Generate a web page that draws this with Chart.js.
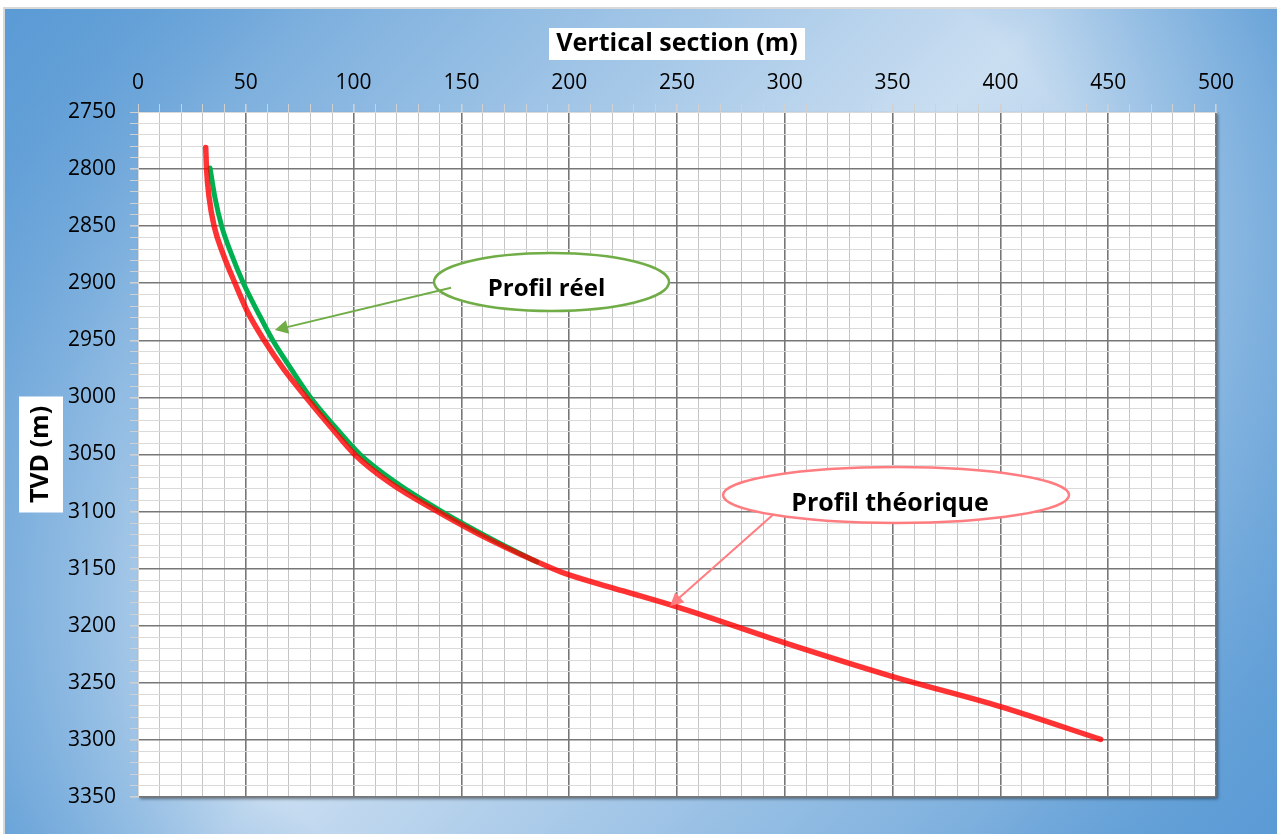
<!DOCTYPE html>
<html>
<head>
<meta charset="utf-8">
<title>Vertical section vs TVD</title>
<script src="https://cdn.jsdelivr.net/npm/chart.js@4.4.0/dist/chart.umd.min.js"></script>
<style>
  html, body { margin: 0; padding: 0; background: #fff; }
  canvas { display: block; }
</style>
</head>
<body>
<canvas id="c" width="1277" height="834"></canvas>
<script>
// Planned well path (vertical section, m / true vertical depth, m)
const theoX = [31.4, 31.8, 33.0, 35.3, 39.6, 45.0, 50.8, 58.5, 67.5, 78, 89, 100.5, 117, 139, 163.5, 192.5, 200, 225, 250, 300, 350, 400, 446.5];
const theoY = [2781, 2800, 2825, 2850, 2875, 2900, 2925, 2950, 2975, 3000, 3025, 3050, 3075, 3100, 3125, 3150, 3155.5, 3169.5, 3183.5, 3215, 3244.5, 3270.8, 3299.5];

// Drilled well path
const reelX = [33.4, 35.7, 38.8, 43.4, 48.9, 55.5, 62.5, 71, 80, 91, 103, 120, 141, 165, 185];
const reelY = [2799, 2825, 2850, 2875, 2900, 2925, 2950, 2975, 3000, 3025, 3050, 3075, 3100, 3125, 3144];

// Labelled tick values
const xTickLabels = [0, 50, 100, 150, 200, 250, 300, 350, 400, 450, 500];
const yTickLabels = [2750, 2800, 2850, 2900, 2950, 3000, 3050, 3100, 3150, 3200, 3250, 3300, 3350];

const FONT = '"Open Sans", "Liberation Sans", sans-serif';

// Callout bubbles pointing at each curve (centres and arrow ends in data units)
const callouts = [
  { text: 'Profil réel', cx: 191.8, cy: 2898.9, rx: 117.5, ry: 29, color: '#70ad47', size: 24,
    from: [145.2, 2904], to: [63.5, 2941], tdx: -5, tdy: 14 },
  { text: 'Profil théorique', cx: 351.6, cy: 3085.5, rx: 173, ry: 28, color: '#ff7c80', size: 25,
    from: [294.4, 3103], to: [246.8, 3182.7], tdx: -6, tdy: 16 }
];

const isLabelled = (v, list) => list.some(t => Math.abs(t - v) < 1e-6);
const isMajor = v => Math.abs(v % 50) < 1e-6;

const frame = {
  id: 'frame',
  beforeDraw(chart) {
    const { ctx, width, height, chartArea: a } = chart;
    ctx.save();
    ctx.fillStyle = '#ffffff';
    ctx.fillRect(0, 0, width, height);

    // diagonal blue gradient with darker corners
    const g = ctx.createLinearGradient(0, 0, 1060, 1060);
    g.addColorStop(0, '#5b9bd5');
    g.addColorStop(0.5, '#cadef1');
    g.addColorStop(1, '#5b9bd5');
    ctx.fillStyle = g;
    ctx.fillRect(4, 8, width - 4, height - 8);
    const v = ctx.createRadialGradient(640, 420, 0, 640, 420, 765);
    v.addColorStop(0, 'rgba(91,155,213,0)');
    v.addColorStop(0.68, 'rgba(91,155,213,0)');
    v.addColorStop(1, 'rgba(91,155,213,0.85)');
    ctx.fillStyle = v;
    ctx.fillRect(4, 8, width - 4, height - 8);
    ctx.strokeStyle = '#d9d9d9';
    ctx.lineWidth = 2;
    ctx.strokeRect(4, 8, width, height);

    // plot area with drop shadow
    ctx.shadowColor = 'rgba(0,0,0,0.45)';
    ctx.shadowOffsetX = 2;
    ctx.shadowOffsetY = 2;
    ctx.shadowBlur = 3;
    ctx.fillStyle = '#ffffff';
    ctx.fillRect(a.left, a.top, a.right - a.left, a.bottom - a.top);
    ctx.restore();
  },
  afterDraw(chart) {
    const { ctx, chartArea: a, scales } = chart;
    const xs = scales.x, ys = scales.y;
    ctx.save();

    // axis titles on white boxes
    ctx.font = 'bold 25px ' + FONT;
    ctx.fillStyle = '#ffffff';
    const tx = (a.left + a.right) / 2;
    ctx.fillRect(tx - 128, 28, 256, 32);
    ctx.fillStyle = '#000';
    ctx.textAlign = 'center';
    ctx.textBaseline = 'middle';
    ctx.fillText('Vertical section (m)', tx, 44);

    const ty = (a.top + a.bottom) / 2;
    ctx.fillStyle = '#ffffff';
    ctx.fillRect(19, ty - 58, 44, 116);
    ctx.save();
    ctx.translate(41, ty);
    ctx.rotate(-Math.PI / 2);
    ctx.fillStyle = '#000';
    ctx.fillText('TVD (m)', 0, 0);
    ctx.restore();

    // callouts
    callouts.forEach(c => {
      const cx = xs.getPixelForValue(c.cx), cy = ys.getPixelForValue(c.cy);
      ctx.beginPath();
      ctx.ellipse(cx, cy, c.rx, c.ry, 0, 0, Math.PI * 2);
      ctx.fillStyle = '#ffffff';
      ctx.fill();
      ctx.lineWidth = 2.5;
      ctx.strokeStyle = c.color;
      ctx.stroke();

      const x0 = xs.getPixelForValue(c.from[0]), y0 = ys.getPixelForValue(c.from[1]);
      const x1 = xs.getPixelForValue(c.to[0]), y1 = ys.getPixelForValue(c.to[1]);
      const ang = Math.atan2(y1 - y0, x1 - x0);
      const hl = 13, hw = 7;
      ctx.beginPath();
      ctx.moveTo(x0, y0);
      ctx.lineTo(x1 - hl * 0.8 * Math.cos(ang), y1 - hl * 0.8 * Math.sin(ang));
      ctx.lineWidth = 2;
      ctx.stroke();
      ctx.beginPath();
      ctx.moveTo(x1, y1);
      ctx.lineTo(x1 - hl * Math.cos(ang) + hw * Math.sin(ang), y1 - hl * Math.sin(ang) - hw * Math.cos(ang));
      ctx.lineTo(x1 - hl * Math.cos(ang) - hw * Math.sin(ang), y1 - hl * Math.sin(ang) + hw * Math.cos(ang));
      ctx.closePath();
      ctx.fillStyle = c.color;
      ctx.fill();

      ctx.font = 'bold ' + c.size + 'px ' + FONT;
      ctx.fillStyle = '#000';
      ctx.textAlign = 'center';
      ctx.textBaseline = 'alphabetic';
      ctx.fillText(c.text, cx + c.tdx, cy + c.tdy);
    });
    ctx.restore();
  }
};

const gridColor = (ctx, min, minorColor) => {
  const v = ctx.tick ? ctx.tick.value : null;
  if (v === null || Math.abs(v - min) < 1e-6) return '#d9d9d9';
  return isMajor(v) ? '#777777' : minorColor;
};
const gridWidth = (ctx, min) => {
  const v = ctx.tick ? ctx.tick.value : null;
  return (v !== null && isMajor(v) && Math.abs(v - min) > 1e-6) ? 1.6 : 1;
};

new Chart(document.getElementById('c'), {
  type: 'scatter',
  data: {
    datasets: [
      {
        label: 'Profil théorique',
        data: theoX.map((x, i) => ({ x, y: theoY[i] })),
        showLine: true,
        borderColor: 'rgba(255,0,0,0.8)',
        borderWidth: 5.5,
        pointRadius: 0,
        cubicInterpolationMode: 'monotone',
        borderCapStyle: 'round',
        borderJoinStyle: 'round',
        order: 0
      },
      {
        label: 'Profil réel',
        data: reelX.map((x, i) => ({ x, y: reelY[i] })),
        showLine: true,
        borderColor: '#00b050',
        borderWidth: 5,
        pointRadius: 0,
        cubicInterpolationMode: 'monotone',
        borderCapStyle: 'round',
        borderJoinStyle: 'round',
        order: 1
      }
    ]
  },
  options: {
    responsive: false,
    animation: false,
    layout: { padding: { left: 0, top: 0, right: 61, bottom: 37 } },
    plugins: { legend: { display: false }, tooltip: { enabled: false } },
    scales: {
      x: {
        type: 'linear',
        position: 'top',
        min: 0,
        max: 500,
        afterFit: s => { s.height = 112; },
        ticks: {
          stepSize: 10,
          autoSkip: false,
          maxRotation: 0,
          padding: 8,
          color: '#000',
          font: { family: FONT, size: 21 },
          callback: v => isLabelled(v, xTickLabels) ? String(Math.round(v)) : ''
        },
        grid: {
          color: c => gridColor(c, 0, '#c4c4c4'),
          lineWidth: c => gridWidth(c, 0),
          tickColor: '#d0d0d0',
          tickLength: 8
        },
        border: { color: '#d9d9d9', width: 1 }
      },
      y: {
        type: 'linear',
        reverse: true,
        min: 2750,
        max: 3350,
        afterFit: s => { s.width = 138; },
        ticks: {
          stepSize: 10,
          autoSkip: false,
          padding: 14,
          color: '#000',
          font: { family: FONT, size: 21 },
          callback: v => isLabelled(v, yTickLabels) ? String(Math.round(v)) : ''
        },
        grid: {
          color: c => gridColor(c, 2750, '#dadada'),
          lineWidth: c => gridWidth(c, 2750),
          tickColor: '#d0d0d0',
          tickLength: 8
        },
        border: { color: '#d9d9d9', width: 1 }
      }
    }
  },
  plugins: [frame]
});
</script>
</body>
</html>
